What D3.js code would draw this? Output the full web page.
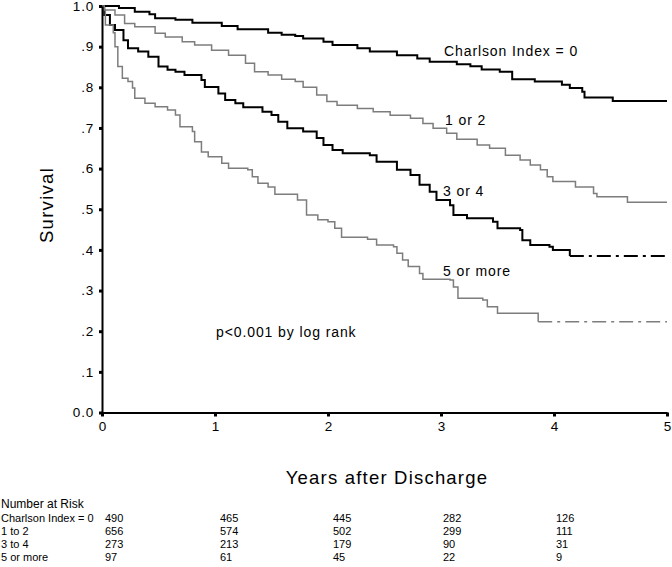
<!DOCTYPE html>
<html>
<head>
<meta charset="utf-8">
<script src="https://cdn.jsdelivr.net/npm/d3@7"></script>
<style>
  html, body { margin: 0; padding: 0; background: #fff; }
  svg { display: block; font-family: "Liberation Sans", Arial, sans-serif; }
</style>
</head>
<body>
<svg id="chart" width="672" height="567"></svg>
<script>
// ---------------- DATA ----------------
const xTicks = [0, 1, 2, 3, 4, 5];
const xTickLabels = ["0", "1", "2", "3", "4", "5"];
const yTicks = [0, 0.1, 0.2, 0.3, 0.4, 0.5, 0.6, 0.7, 0.8, 0.9, 1.0];
const yTickLabels = ["0.0", ".1", ".2", ".3", ".4", ".5", ".6", ".7", ".8", ".9", "1.0"];

const seriesNames = ["Charlson Index = 0", "1 or 2", "3 or 4", "5 or more"];

// Kaplan-Meier step points (years, survival)
const time0 = [0, 0.15, 0.29, 0.42, 0.47, 0.65, 0.80, 1.06, 1.20, 1.47, 1.59, 1.71, 1.78, 1.96, 2.04, 2.26, 2.37, 2.61, 2.79, 2.90, 3.14, 3.26, 3.36, 3.52, 3.63, 3.83, 4.07, 4.14, 4.25, 4.27, 4.52];
const surv0 = [1.0, 0.995, 0.986, 0.980, 0.970, 0.966, 0.959, 0.951, 0.943, 0.934, 0.929, 0.926, 0.920, 0.912, 0.904, 0.896, 0.888, 0.879, 0.871, 0.863, 0.857, 0.852, 0.844, 0.838, 0.820, 0.814, 0.806, 0.798, 0.789, 0.775, 0.766];

const time1 = [0, 0.02, 0.115, 0.20, 0.29, 0.47, 0.56, 0.71, 0.82, 0.97, 1.12, 1.27, 1.35, 1.47, 1.59, 1.71, 1.78, 1.90, 1.99, 2.08, 2.26, 2.40, 2.55, 2.73, 2.84, 2.93, 3.05, 3.14, 3.32, 3.43, 3.57, 3.70, 3.79, 3.88, 3.94, 3.99, 4.19, 4.35, 4.38, 4.65];
const surv1 = [1.0, 0.990, 0.978, 0.957, 0.949, 0.933, 0.924, 0.912, 0.904, 0.891, 0.879, 0.859, 0.838, 0.830, 0.820, 0.814, 0.800, 0.781, 0.765, 0.756, 0.748, 0.740, 0.731, 0.724, 0.711, 0.699, 0.687, 0.672, 0.658, 0.650, 0.633, 0.621, 0.609, 0.597, 0.580, 0.568, 0.555, 0.539, 0.531, 0.517];

const time2 = [0, 0.02, 0.07, 0.115, 0.19, 0.23, 0.32, 0.41, 0.50, 0.58, 0.65, 0.73, 0.88, 0.91, 1.03, 1.09, 1.18, 1.25, 1.42, 1.50, 1.56, 1.64, 1.78, 1.90, 1.96, 2.04, 2.13, 2.37, 2.43, 2.61, 2.73, 2.81, 2.90, 2.96, 3.08, 3.11, 3.23, 3.46, 3.50, 3.70, 3.72, 3.79, 3.96, 3.99, 4.14];
const surv2 = [1.0, 0.978, 0.953, 0.941, 0.916, 0.896, 0.888, 0.875, 0.851, 0.843, 0.838, 0.830, 0.818, 0.801, 0.785, 0.769, 0.761, 0.751, 0.740, 0.732, 0.715, 0.699, 0.691, 0.675, 0.658, 0.646, 0.638, 0.633, 0.617, 0.597, 0.584, 0.560, 0.543, 0.523, 0.510, 0.486, 0.478, 0.469, 0.453, 0.449, 0.424, 0.412, 0.408, 0.400, 0.385];

const time3 = [0, 0.02, 0.03, 0.10, 0.115, 0.14, 0.18, 0.23, 0.27, 0.29, 0.38, 0.47, 0.58, 0.65, 0.69, 0.80, 0.82, 0.88, 0.94, 1.06, 1.12, 1.29, 1.33, 1.38, 1.47, 1.53, 1.73, 1.81, 1.91, 2.00, 2.06, 2.12, 2.35, 2.43, 2.58, 2.61, 2.66, 2.71, 2.81, 2.84, 3.08, 3.11, 3.15, 3.37, 3.41, 3.50, 3.86];
const surv3 = [1.0, 0.990, 0.953, 0.934, 0.900, 0.851, 0.822, 0.814, 0.798, 0.773, 0.761, 0.752, 0.744, 0.732, 0.703, 0.691, 0.666, 0.641, 0.629, 0.613, 0.601, 0.597, 0.580, 0.564, 0.555, 0.537, 0.523, 0.486, 0.474, 0.469, 0.453, 0.431, 0.426, 0.412, 0.408, 0.392, 0.375, 0.359, 0.342, 0.328, 0.326, 0.309, 0.281, 0.277, 0.260, 0.244, 0.223];

const riskTitle = "Number at Risk";
const riskLabels = ["Charlson Index = 0", "1 to 2", "3 to 4", "5 or more"];
const risk0 = [490, 465, 445, 282, 126];
const risk1 = [656, 574, 502, 299, 111];
const risk2 = [273, 213, 179, 90, 31];
const risk3 = [97, 61, 45, 22, 9];

const pText = "p<0.001 by log rank";
const xTitle = "Years after Discharge";
const yTitle = "Survival";

// ---------------- DRAW ----------------
const svg = d3.select("#chart");
const x = d3.scaleLinear().domain([0, 5]).range([102, 667]);
const y = d3.scaleLinear().domain([0, 1]).range([412.5, 6]);

const series = [
  { name: seriesNames[0], t: time0, s: surv0, color: "#000", width: 2, dashTail: false },
  { name: seriesNames[1], t: time1, s: surv1, color: "#7d7d7d", width: 1.5, dashTail: false },
  { name: seriesNames[2], t: time2, s: surv2, color: "#000", width: 2, dashTail: true },
  { name: seriesNames[3], t: time3, s: surv3, color: "#7d7d7d", width: 1.5, dashTail: true }
];

const line = d3.line().x(d => x(d[0])).y(d => y(d[1])).curve(d3.curveStepAfter);

series.forEach(sr => {
  const pts = sr.t.map((t, i) => [t, sr.s[i]]);
  const last = pts[pts.length - 1];
  const tailEnd = [5, last[1]];
  svg.append("path")
    .attr("d", line(sr.dashTail ? pts : pts.concat([tailEnd])))
    .attr("fill", "none")
    .attr("stroke", sr.color)
    .attr("stroke-width", sr.width);
  if (sr.dashTail) {
    svg.append("path")
      .attr("d", line([last, tailEnd]))
      .attr("fill", "none")
      .attr("stroke", sr.color)
      .attr("stroke-width", sr.width)
      .attr("stroke-dasharray", "14,5,3,5");
  }
});

// axes
const yAxis = d3.axisLeft(y).tickValues(yTicks)
  .tickFormat((d, i) => yTickLabels[i]).tickSize(3).tickSizeOuter(0).tickPadding(5);
const gy = svg.append("g").attr("transform", "translate(102,0)").call(yAxis);
gy.select(".domain").attr("stroke", "#000").attr("stroke-width", 2);
gy.selectAll(".tick line").attr("stroke", "#000").attr("stroke-width", 3);
gy.selectAll(".tick text").attr("font-size", 13.5).attr("letter-spacing", 0.8)
  .attr("fill", "#000").attr("font-family", "Liberation Sans, Arial, sans-serif");

const xAxis = d3.axisBottom(x).tickValues(xTicks)
  .tickFormat((d, i) => xTickLabels[i]).tickSize(4).tickSizeOuter(0).tickPadding(5);
const gx = svg.append("g").attr("transform", "translate(0,412.5)").call(xAxis);
gx.select(".domain").attr("stroke", "#000").attr("stroke-width", 2);
gx.selectAll(".tick line").attr("stroke", "#000").attr("stroke-width", 3);
gx.selectAll(".tick text").attr("font-size", 13.5).attr("fill", "#000")
  .attr("font-family", "Liberation Sans, Arial, sans-serif");

// titles
svg.append("text")
  .attr("transform", "translate(53,205) rotate(-90)")
  .attr("text-anchor", "middle")
  .attr("font-size", 18.5).attr("letter-spacing", 1.3)
  .text(yTitle);

svg.append("text")
  .attr("x", 387).attr("y", 484)
  .attr("text-anchor", "middle")
  .attr("font-size", 18.5).attr("letter-spacing", 1.2)
  .text(xTitle);

// curve labels
const labelPos = [[444, 56], [445, 125], [443, 196], [443, 276]];
seriesNames.forEach((n, i) => {
  svg.append("text")
    .attr("x", labelPos[i][0]).attr("y", labelPos[i][1])
    .attr("font-size", 14).attr("letter-spacing", 0.9)
    .text(n);
});

svg.append("text")
  .attr("x", 216).attr("y", 337)
  .attr("font-size", 14).attr("letter-spacing", 0.9)
  .text(pText);

// number at risk table
const riskRows = [risk0, risk1, risk2, risk3];
svg.append("text").attr("x", 1).attr("y", 508).attr("font-size", 12).text(riskTitle);
const colX = [105, 220, 333, 443, 556];
const rowY = d3.scaleLinear().domain([0, 1]).range([521.5, 534.8]);
riskRows.forEach((row, r) => {
  svg.append("text").attr("x", 1).attr("y", rowY(r)).attr("font-size", 11).text(riskLabels[r]);
  row.forEach((v, c) => {
    svg.append("text").attr("x", colX[c]).attr("y", rowY(r)).attr("font-size", 11).text(v);
  });
});
</script>
</body>
</html>
